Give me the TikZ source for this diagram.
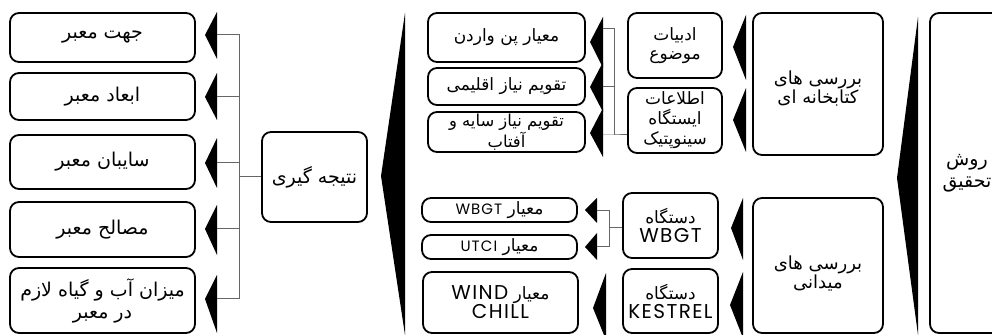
\documentclass[tikz,border=0pt]{standalone}
\usepackage{fontspec}
\TeXXeTstate=1
\newfontfamily\fa[Script=Arabic]{DejaVu Sans}
\newfontfamily\la[LetterSpace=7]{Poppins}
\newcommand{\R}[1]{\beginR #1\endR}
\newcommand{\lsm}{\la\fontsize{7.5}{9}\selectfont}
\newcommand{\lbg}{\la\fontsize{10}{11}\selectfont}
\newcommand{\bx}[7][]{\node[box,minimum width={(#5-#3)*0.5pt},minimum height={(#6-#4)*0.5pt},#1] (#2) at ({(#3+#5)/2},{(#4+#6)/2}) {#7};}
\newcommand{\tri}[4]{\fill[black] (#1,#2) -- ({#1-12},#3) -- (#1,#4) -- cycle;}
\begin{document}
\begin{tikzpicture}[x=0.5pt,y=-0.5pt,
  box/.style={draw=black, line width=0.9pt, rounded corners=4.5pt, inner sep=0pt, align=center,
    font=\fa\fontsize{8.5}{9.5}\selectfont},
  big/.style={font=\fa\fontsize{9.5}{11}\selectfont},
  wire/.style={draw=black!60, line width=0.5pt}]
\clip (0,0) rectangle (992,335);
% left column
\bx[big]{l1}{10}{13}{195}{62}{\R{جهت معبر}}
\bx[big]{l2}{10}{73}{195}{120}{\R{ابعاد معبر}}
\bx[big]{l3}{10}{135}{195}{189}{\R{سایبان معبر}}
\bx[big]{l4}{10}{202}{195}{257}{\R{مصالح معبر}}
\bx[big]{l5}{10}{268}{195}{333}{\R{میزان آب و گیاه لازم}\\\R{در معبر}}
\bx[big]{res}{262}{132}{367}{222}{\R{نتیجه گیری}}
% middle top
\bx{m1}{428}{13}{585}{62}{\R{معیار پن واردن}}
\bx{m2}{428}{68}{585}{105}{\R{تقویم نیاز اقلیمی}}
\bx[font=\fa\fontsize{8.2}{8}\selectfont]{m3}{428}{112}{585}{152}{\R{تقویم نیاز سایه و}\\\R{آفتاب}}
\bx{b1}{628}{13}{722}{78}{\R{ادبیات}\\\R{موضوع}}
\bx[font=\fa\fontsize{8.5}{10}\selectfont]{b2}{628}{88}{722}{153}{\R{اطلاعات}\\\R{ایستگاه}\\\R{سینوپتیک}}
\bx[font=\fa\fontsize{9}{9.5}\selectfont]{k}{753}{13}{883}{155}{\rule{0pt}{11pt}\R{بررسی های}\\\R{کتابخانه ای}}
% middle bottom
\bx{w1}{422}{198}{577}{222}{\R{معیار \beginL{\lsm WBGT}\endL{}}}
\bx{w2}{422}{235}{577}{259}{\R{معیار \beginL{\lsm UTCI}\endL{}}}
\bx{w3}{423}{272}{578}{333}{\R{معیار \beginL{\lbg WIND}\endL{}}\\{\lbg CHILL}}
\bx{d1}{623}{193}{718}{258}{\R{دستگاه}\\{\lbg WBGT}}
\bx{d2}{623}{269}{718}{333}{\R{دستگاه}\\{\lbg KESTREL}}
\bx[font=\fa\fontsize{9}{9.5}\selectfont]{f}{753}{198}{883}{333}{\rule{0pt}{15pt}\R{بررسی های}\\\R{میدانی}}
% right
\bx[big]{rm}{930}{13}{1004}{333}{\R{روش}\\\R{تحقیق}}
% big wedges
\fill[black] (405,13) -- (381,176) -- (405,335) -- cycle;
\fill[black] (918,17) -- (897,178) -- (918,335) -- cycle;
% arrow heads, left column
\tri{217}{12}{35}{59}
\tri{217}{73}{97}{120}
\tri{217}{138}{163}{188}
\tri{217}{205}{229}{255}
\tri{217}{275}{299}{333}
% arrow heads, middle top
\fill[black] (603,17) -- (590,42) -- (603,68) -- cycle;
\fill[black] (603,62) -- (590,87) -- (603,112) -- cycle;
\fill[black] (603,108) -- (590,133) -- (603,157) -- cycle;
\fill[black] (746,15) -- (733,47) -- (746,80) -- cycle;
\fill[black] (746,88) -- (733,120) -- (746,152) -- cycle;
% arrow heads, middle bottom
\fill[black] (597,198) -- (585,210) -- (597,223) -- cycle;
\fill[black] (597,233) -- (585,247) -- (597,260) -- cycle;
\fill[black] (606,273) -- (593,308) -- (606,340) -- cycle;
\fill[black] (743,198) -- (731,228) -- (743,260) -- cycle;
\fill[black] (743,272) -- (730,305) -- (743,338) -- cycle;
% connectors, left
\coordinate (a1) at (217,35);
\coordinate (a2) at (217,97);
\coordinate (a3) at (217,163);
\coordinate (a4) at (217,229);
\coordinate (a5) at (217,299);
\coordinate (bus) at (239,177);
\draw[wire] (a1) -| (bus);
\draw[wire] (a2) -| (bus);
\draw[wire] (a3) -| (bus);
\draw[wire] (a4) -| (bus);
\draw[wire] (a5) -| (bus);
\draw[wire] (bus) -- (bus -| res.west);
% connectors, middle top
\coordinate (c1) at (603,29);
\coordinate (c2) at (603,87);
\coordinate (c3) at (603,135);
\coordinate (mb) at (614,135);
\draw[wire] (c1) -| (mb);
\draw[wire] (c2) -| (mb);
\draw[wire] (c3) -- (mb) -- (mb -| b2.west);
% connectors, middle bottom
\coordinate (e1) at (597,211);
\coordinate (e2) at (597,247);
\coordinate (eb) at (609,228);
\draw[wire] (e1) -| (eb);
\draw[wire] (e2) -| (eb);
\draw[wire] (eb) -- (eb -| d1.west);
\end{tikzpicture}
\end{document}
